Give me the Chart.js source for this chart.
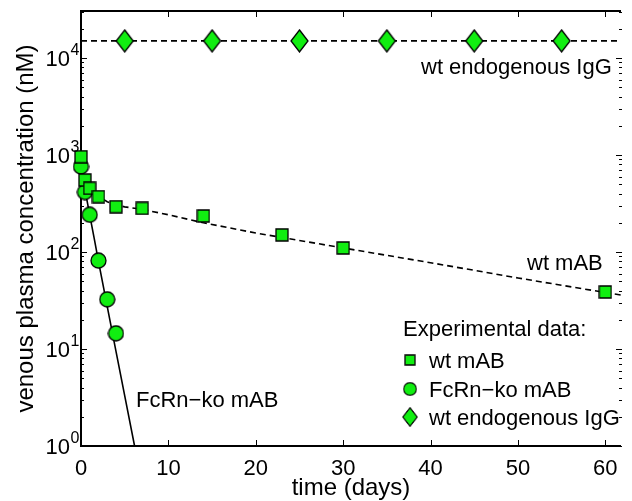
<!DOCTYPE html>
<html><head><meta charset="utf-8">
<script src="https://cdn.jsdelivr.net/npm/chart.js@4.4.0/dist/chart.umd.min.js"></script>
<style>html,body{margin:0;padding:0;background:#fff;}#wrap{width:632px;height:501px;position:relative;}</style>
</head><body><div id="wrap"><canvas id="c" width="632" height="501"></canvas></div>
<script>
// ---- data ----
const wtTimes  = [0, 0.45, 1, 2, 4, 7, 14, 23, 30, 60];
const wtValues = [960, 552, 454, 372, 293, 282, 235, 150, 110, 38.7];
const koTimes  = [0, 0.45, 1, 2, 3, 4];
const koValues = [760, 415, 242, 81.5, 32.5, 14.5];
const iggTimes  = [5, 15, 25, 35, 45, 55];
const iggValues = [15000, 15000, 15000, 15000, 15000, 15000];
const wtModelTimes  = [0, 0.25, 0.5, 1, 2, 3, 4, 5, 7, 10, 14, 20, 30, 40, 50, 60, 61.8];
const wtModelValues = [940, 700, 580, 470, 375, 330, 305, 292, 275, 242, 200, 157, 110, 77.5, 54, 38.2, 36];
const koModelTimes  = [0, 0.25, 0.5, 1, 1.5, 2, 3, 4, 5, 6.13];
const koModelValues = [780, 560, 420, 240, 140, 80, 27.5, 9.5, 3.3, 1];
const iggModelTimes  = [0, 61.8];
const iggModelValues = [15000, 15000];
const xTicks = [0, 10, 20, 30, 40, 50, 60];
const xTickLabels = ['0', '10', '20', '30', '40', '50', '60'];
const yTicks = [1, 10, 100, 1000, 10000];
const yTickExponents = ['0', '1', '2', '3', '4'];
const xTitle = 'time (days)';
const yTitle = 'venous plasma concentration (nM)';
const legendTitle = 'Experimental data:';
const legendLabels = ['wt mAB', 'FcRn\u2212ko mAB', 'wt endogenous IgG'];
const annotations = [
  {text: 'wt endogenous IgG', x: 421, y: 74},
  {text: 'wt mAB', x: 527, y: 270},
  {text: 'FcRn\u2212ko mAB', x: 136, y: 407}
];

const GREEN = '#11ee11';
const FONT = "'Liberation Sans', Arial, Helvetica, sans-serif";

function pts(xs, ys) { return xs.map((x, i) => ({x: x, y: ys[i]})); }

function makeMarker(kind) {
  const c = document.createElement('canvas');
  let w, h;
  if (kind === 'square') { w = 14; h = 14; }
  else if (kind === 'circle') { w = 17; h = 17; }
  else { w = 19; h = 24; }
  c.width = w; c.height = h;
  const g = c.getContext('2d');
  g.fillStyle = GREEN; g.strokeStyle = '#000'; g.lineWidth = 1.3;
  g.beginPath();
  if (kind === 'square') { g.rect(1, 1, w - 2, h - 2); }
  else if (kind === 'circle') { g.arc(w / 2, h / 2, w / 2 - 1, 0, Math.PI * 2); }
  else { g.moveTo(w / 2, 1); g.lineTo(w - 1, h / 2); g.lineTo(w / 2, h - 1); g.lineTo(1, h / 2); g.closePath(); }
  g.fill(); g.stroke();
  return c;
}
const mSquare = makeMarker('square');
const mCircle = makeMarker('circle');
const mDiamond = makeMarker('diamond');

const axesPlugin = {
  id: 'axesPlugin',
  beforeDatasetsDraw(chart) {
    const ctx = chart.ctx, a = chart.chartArea;
    const xs = chart.scales.x, ys = chart.scales.y;
    ctx.save();
    ctx.strokeStyle = '#000';
    ctx.lineWidth = 1;
    xTicks.forEach(v => {
      const px = Math.round(xs.getPixelForValue(v)) + 0.5;
      ctx.beginPath();
      ctx.moveTo(px, a.bottom); ctx.lineTo(px, a.bottom - 6);
      ctx.moveTo(px, a.top); ctx.lineTo(px, a.top + 6);
      ctx.stroke();
    });
    for (let k = 0; k <= 4; k++) {
      for (let m = 1; m <= 9; m++) {
        const v = m * Math.pow(10, k);
        if (v > ys.max) continue;
        const py = Math.round(ys.getPixelForValue(v)) + 0.5;
        const len = m === 1 ? 6 : 3;
        ctx.beginPath();
        ctx.moveTo(a.left, py); ctx.lineTo(a.left + len, py);
        ctx.moveTo(a.right + 1, py); ctx.lineTo(a.right + 1 - len, py);
        ctx.stroke();
      }
    }
    ctx.lineWidth = 2;
    ctx.beginPath();
    ctx.moveTo(a.left, a.top); ctx.lineTo(a.right, a.top);
    ctx.moveTo(a.left, a.top - 1); ctx.lineTo(a.left, a.bottom + 1);
    ctx.moveTo(a.left, a.bottom); ctx.lineTo(a.right, a.bottom);
    ctx.stroke();
    ctx.restore();
  },
  afterDraw(chart) {
    const ctx = chart.ctx, a = chart.chartArea;
    const xs = chart.scales.x, ys = chart.scales.y;
    ctx.save();
    ctx.fillStyle = '#000';
    ctx.font = '22px ' + FONT;
    ctx.textAlign = 'center'; ctx.textBaseline = 'alphabetic';
    xTicks.forEach((v, i) => {
      ctx.fillText(xTickLabels[i], xs.getPixelForValue(v), 475);
    });
    yTicks.forEach((v, i) => {
      const py = ys.getPixelForValue(v);
      ctx.font = '22px ' + FONT;
      ctx.textAlign = 'right';
      ctx.fillText('10', 70, py + 8);
      ctx.font = '16px ' + FONT;
      ctx.textAlign = 'left';
      ctx.fillText(yTickExponents[i], 70.5, py - 3);
    });
    ctx.font = '24px ' + FONT;
    ctx.textAlign = 'center';
    ctx.fillText(xTitle, (a.left + a.right) / 2, 495);
    ctx.save();
    ctx.translate(33, (a.top + a.bottom) / 2);
    ctx.rotate(-Math.PI / 2);
    ctx.fillText(yTitle, 0, 0);
    ctx.restore();
    ctx.font = '22px ' + FONT;
    ctx.textAlign = 'left';
    annotations.forEach(t => ctx.fillText(t.text, t.x, t.y));
    ctx.fillText(legendTitle, 403, 336);
    const markers = [mSquare, mCircle, mDiamond];
    const rows = [360, 389, 417];
    legendLabels.forEach((lab, i) => {
      const mk = markers[i];
      const sc = i === 0 ? 0.8 : 0.85;
      const w = mk.width * sc, h = mk.height * sc;
      ctx.drawImage(mk, 410 - w / 2, rows[i] - h / 2, w, h);
      ctx.fillText(lab, 429, rows[i] + 8);
    });
    ctx.restore();
  }
};

new Chart(document.getElementById('c'), {
  type: 'line',
  data: {
    datasets: [
      {label: 'wt mAB', data: pts(wtTimes, wtValues), showLine: false, pointStyle: mSquare, pointRadius: 7, order: 0, clip: false},
      {label: 'FcRn-ko mAB', data: pts(koTimes, koValues), showLine: false, pointStyle: mCircle, pointRadius: 8, order: 1, clip: false},
      {label: 'wt endogenous IgG', data: pts(iggTimes, iggValues), showLine: false, pointStyle: mDiamond, pointRadius: 10, order: 1, clip: false},
      {label: 'wt model', data: pts(wtModelTimes, wtModelValues), borderColor: '#000', borderWidth: 1.6, borderDash: [6, 4], pointRadius: 0, tension: 0, order: 3},
      {label: 'ko model', data: pts(koModelTimes, koModelValues), borderColor: '#000', borderWidth: 1.6, pointRadius: 0, tension: 0, order: 3},
      {label: 'igg model', data: pts(iggModelTimes, iggModelValues), borderColor: '#000', borderWidth: 1.6, borderDash: [6, 4], pointRadius: 0, tension: 0, order: 3}
    ]
  },
  options: {
    responsive: false,
    animation: false,
    events: [],
    layout: {padding: {left: 81, right: 0, top: 11, bottom: 55}},
    scales: {
      x: {type: 'linear', min: 0, max: 61.8, display: false},
      y: {type: 'logarithmic', min: 1, max: 30500, display: false}
    },
    plugins: {legend: {display: false}, tooltip: {enabled: false}, title: {display: false}}
  },
  plugins: [axesPlugin]
});
</script>
</body></html>
